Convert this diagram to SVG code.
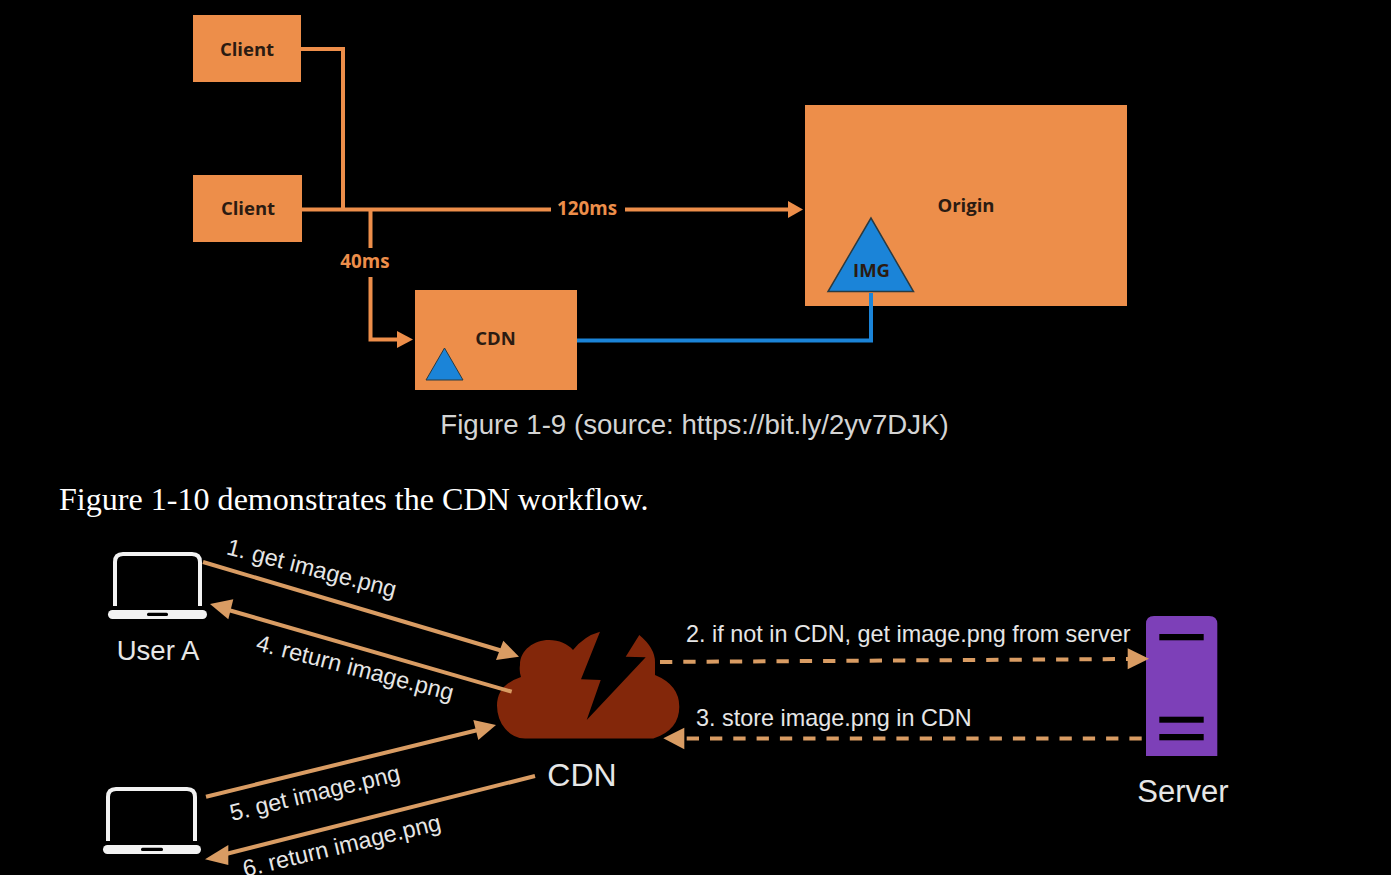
<svg xmlns="http://www.w3.org/2000/svg" width="1391" height="875" viewBox="0 0 1391 875">
<style>
.box{fill:#ed8e4a}
.dk{font-family:"Open Sans","Liberation Sans",sans-serif;font-weight:700;fill:#2b1b12;text-anchor:middle}
.or{font-family:"Open Sans","Liberation Sans",sans-serif;font-weight:700;fill:#ed8e4a;text-anchor:middle;font-size:18.800px}
.wire{fill:none;stroke:#ed8e4a;stroke-width:4}
.blue{fill:none;stroke:#1b84d8;stroke-width:4}
.lb{font-family:"Liberation Sans",Arial,sans-serif;fill:#e6e6e6}
.tan{stroke:#d99c63;stroke-width:4;fill:none}
.dash{stroke:#d99c63;stroke-width:4;fill:none;stroke-dasharray:12.3 11}
.head{fill:#d99c63}
.wh{fill:#f2f2f2}
.bar{fill:#000}
</style>
<rect width="1391" height="875" fill="#000"/>
<g id="client-1"><rect class="box" x="193" y="15" width="108" height="67"/><text class="dk" x="247" y="56" font-size="18.500">Client</text></g>
<g id="client-2"><rect class="box" x="193" y="175" width="109" height="67"/><text class="dk" x="248" y="215" font-size="18.500">Client</text></g>
<g id="origin"><rect class="box" x="805" y="105" width="322" height="201"/><text class="dk" x="966" y="212" font-size="18.500">Origin</text>
<polygon points="871,218 828,291.500 913.500,291.500" fill="#1b84d8" stroke="#2b3a40" stroke-width="1.500"/><text class="dk" x="871.500" y="276.500" font-size="18.500">IMG</text></g>
<g id="cdn-box"><rect class="box" x="415" y="290" width="162" height="100"/><text class="dk" x="495.500" y="344.500" font-size="18.500">CDN</text>
<polygon points="444.500,348 426,380 463,380" fill="#1b84d8" stroke="#2b3a40" stroke-width="1"/></g>
<g id="labels-top">
<text class="or" x="365" y="267.500">40ms</text>
<text class="or" x="587" y="215">120ms</text>
</g>
<text x="694.500" y="434" text-anchor="middle" font-family="Liberation Sans,Arial,sans-serif" font-size="27.650" fill="#d4d4d4">Figure 1-9 (source: https://bit.ly/2yv7DJK)</text>
<text x="59" y="510" font-family="Liberation Serif,Times New Roman,serif" font-size="32.100" fill="#fff">Figure 1-10 demonstrates the CDN workflow.</text>
<g id="user-a">
<path d="M115 606V562Q115 554 123 554H192Q200 554 200 562V606" fill="none" stroke="#f2f2f2" stroke-width="4"/>
<rect class="wh" x="108" y="610" width="99" height="9" rx="4.500"/><rect class="bar" x="147" y="612.700" width="21" height="3.300" rx="1.500"/>
<text class="lb" x="158" y="660" text-anchor="middle" font-size="27.500">User A</text></g>
<g id="user-b">
<path d="M108 841V797Q108 789 116 789H187Q195 789 195 797V841" fill="none" stroke="#f2f2f2" stroke-width="4"/>
<rect class="wh" x="103" y="845" width="98" height="9" rx="4.500"/><rect class="bar" x="141" y="847.700" width="22" height="3.300" rx="1.500"/>
<text class="lb" x="151" y="895" text-anchor="middle" font-size="27.500">User B</text></g>
<g id="cdn-cloud">
<path fill="#83270a" d="M525 738.500A28 33 0 0 1 497 705.500Q497 685 521 677Q519 671 520 665C520 650 534 640 549 640C559 640 568 644 573 650Q584 636 600 631.700L581 679.300L600.700 680L586.700 720L645.700 657.300L625.700 656.700L639.300 635Q655 648 655 662V675Q679.300 685 679.300 706.700Q679.300 730 653.300 738.500Z"/>
<text class="lb" x="582" y="786" text-anchor="middle" font-size="32">CDN</text></g>
<g id="server">
<path fill="#7d40b8" d="M1146 756V624Q1146 616 1154 616H1209Q1217.300 616 1217.300 624V756Z"/>
<rect class="bar" x="1159.300" y="634" width="44.400" height="6.300"/>
<rect class="bar" x="1159.300" y="716.700" width="44.400" height="6"/>
<rect class="bar" x="1159.300" y="734" width="44.400" height="6.300"/>
<text class="lb" x="1183" y="802" text-anchor="middle" font-size="31">Server</text></g>
<g id="connectors">
<path class="wire" d="M301 49H343V209"/>
<path class="wire" d="M302 209.500H551"/>
<path class="wire" d="M625 209.500H788"/>
<path class="wire" d="M370.500 209.500V248"/>
<path class="wire" d="M370.500 277V339.500H398"/>
<polygon points="788,201 803,209.500 788,218" fill="#ed8e4a"/>
<polygon points="397,331 413,339.500 397,348" fill="#ed8e4a"/>
<path class="blue" d="M577 340.500H871V293"/>
<line class="tan" x1="203" y1="562" x2="506" y2="652"/>
<polygon class="head" points="503.300,640.700 496,660 519,656.700"/>
<line class="tan" x1="511.700" y1="691.700" x2="225" y2="609"/>
<polygon class="head" points="233.300,599.300 228.300,619.300 210,604"/>
<line class="tan" x1="206" y1="796.700" x2="482" y2="729"/>
<polygon class="head" points="473.300,720 478.300,740 496,725"/>
<line class="tan" x1="535" y1="776" x2="222" y2="855"/>
<polygon class="head" points="228.300,845 228.300,865 205,859.300"/>
<line class="dash" x1="660" y1="662" x2="1128" y2="659"/>
<polygon class="head" points="1127.700,648.300 1127.700,669.300 1149,658.700"/>
<line class="dash" x1="1141.700" y1="738.500" x2="684" y2="738.500"/>
<polygon class="head" points="684.300,727.700 684.300,749.300 663.300,738.300"/>
</g>
<g id="labels-flow" font-size="23.400">
<text class="lb" transform="translate(225.500,554) rotate(14.500)">1. get image.png</text>
<text class="lb" transform="translate(255,650) rotate(14.500)">4. return image.png</text>
<text class="lb" transform="translate(232,821) rotate(-13.500)">5. get image.png</text>
<text class="lb" transform="translate(245,877) rotate(-13.500)">6. return image.png</text>
<text class="lb" x="686" y="642">2. if not in CDN, get image.png from server</text>
<text class="lb" x="696" y="726">3. store image.png in CDN</text>
</g>
</svg>
